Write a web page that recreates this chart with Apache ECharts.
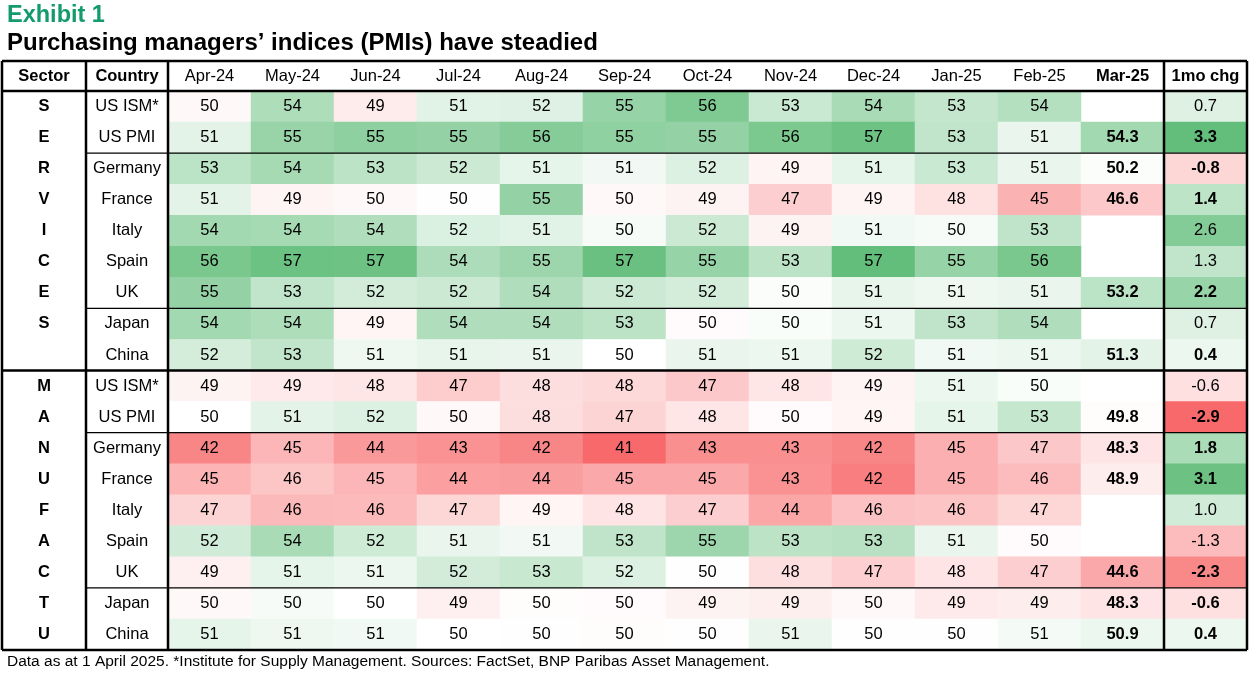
<!DOCTYPE html>
<html>
<head>
<meta charset="utf-8">
<script src="https://cdn.jsdelivr.net/npm/echarts@6/dist/echarts.min.js"></script>
<style>
html, body { margin: 0; padding: 0; background: #fff; }
#chart { width: 1250px; height: 675px; }
</style>
</head>
<body>
<div id="chart"></div>
<script>
var months = ['Apr-24', 'May-24', 'Jun-24', 'Jul-24', 'Aug-24', 'Sep-24', 'Oct-24', 'Nov-24', 'Dec-24', 'Jan-25', 'Feb-25', 'Mar-25'];
var chgLabel = '1mo chg';
var countries = ['US ISM*', 'US PMI', 'Germany', 'France', 'Italy', 'Spain', 'UK', 'Japan', 'China',
                 'US ISM*', 'US PMI', 'Germany', 'France', 'Italy', 'Spain', 'UK', 'Japan', 'China'];
var sectorLetters = ['S', 'E', 'R', 'V', 'I', 'C', 'E', 'S', '',
                     'M', 'A', 'N', 'U', 'F', 'A', 'C', 'T', 'U'];

// Apr-24 ... Mar-25, null = no March reading yet
var servicesPMI = [
  [49.6, 53.8, 48.8, 51.4, 51.5, 54.9, 56.0, 52.5, 54.0, 52.8, 53.5, null],
  [51.3, 54.8, 55.3, 55.0, 55.7, 55.2, 55.0, 56.1, 56.8, 52.9, 51.0, 54.3],
  [53.2, 54.2, 53.1, 52.4, 51.2, 50.6, 51.6, 49.3, 51.2, 52.5, 51.0, 50.2],
  [51.3, 49.3, 49.6, 50.1, 55.0, 49.6, 49.2, 46.9, 49.3, 48.2, 45.2, 46.6],
  [54.3, 54.2, 53.7, 51.7, 51.4, 50.4, 52.4, 49.2, 50.7, 50.4, 53.0, null],
  [56.2, 56.9, 56.8, 53.9, 54.6, 57.0, 54.9, 53.1, 57.3, 54.9, 56.2, null],
  [55.0, 52.9, 52.1, 52.4, 53.7, 52.4, 52.0, 50.2, 51.1, 50.8, 51.0, 53.2],
  [54.3, 53.8, 49.4, 53.7, 53.7, 53.1, 49.7, 50.3, 50.9, 53.0, 53.7, null],
  [52.0, 52.9, 50.8, 51.1, 51.0, 50.0, 51.0, 50.9, 52.3, 50.7, 50.9, 51.3]
];
var manufacturingPMI = [
  [49.2, 48.7, 48.4, 46.8, 47.9, 47.6, 46.6, 48.4, 49.3, 50.9, 50.3, null],
  [50.0, 51.3, 51.6, 49.6, 47.9, 47.3, 48.4, 49.7, 49.4, 51.2, 52.7, 49.8],
  [42.4, 45.4, 43.6, 43.2, 42.4, 40.6, 43.0, 43.0, 42.4, 45.0, 46.5, 48.3],
  [45.3, 46.4, 45.4, 44.0, 43.9, 44.6, 44.6, 43.1, 41.9, 45.0, 45.8, 48.9],
  [47.3, 45.6, 45.7, 47.4, 49.4, 48.3, 46.9, 44.4, 46.2, 46.3, 47.4, null],
  [52.2, 54.0, 52.3, 51.0, 50.6, 53.0, 54.6, 53.1, 53.3, 51.0, 49.7, null],
  [49.1, 51.2, 50.9, 52.1, 52.6, 51.6, 49.9, 48.0, 47.0, 48.3, 46.9, 44.6],
  [49.6, 50.4, 50.0, 49.1, 49.8, 49.7, 49.2, 49.0, 49.6, 48.7, 48.9, 48.3],
  [51.2, 50.8, 50.7, 50.0, 50.1, 49.8, 50.1, 51.0, 50.1, 49.9, 50.5, 50.9]
];
var servicesChg = [0.7, 3.3, -0.8, 1.4, 2.6, 1.3, 2.2, 0.7, 0.4];
var manufacturingChg = [-0.6, -2.9, 1.8, 3.1, 1.0, -1.3, -2.3, -0.6, 0.4];

var FONT = '"Liberation Sans", Arial, sans-serif';
var FS = 16.5;

// table frame (px)
var tableL = 2, tableR = 1247, tableT = 61, headB = 91, tableB = 650;
var sectorR = 86, countryR = 168;
var rowH = (tableB - headB) / 18;
var chgL = countryR + 12 * (tableR - countryR) / 13;

var allPMI = servicesPMI.concat(manufacturingPMI);
var allChg = servicesChg.concat(manufacturingChg);

// excel-like red / white / green scale, white at mid
function scaleStops(lo, mid, hi) {
  var red = [248, 105, 107], white = [255, 255, 255], green = [99, 190, 123];
  var out = [];
  var n = 241;
  for (var i = 0; i < n; i++) {
    var v = lo + (hi - lo) * i / (n - 1);
    var to = v < mid ? red : green;
    var t = v < mid ? (mid - v) / (mid - lo) : (v - mid) / (hi - mid);
    var c = white.map(function (w, k) { return Math.round(w + (to[k] - w) * t); });
    out.push('rgb(' + c.join(',') + ')');
  }
  return out;
}

var cells = [];
allPMI.forEach(function (row, r) {
  row.forEach(function (v, c) {
    if (v !== null) cells.push([c, r, v]);
  });
});
var chgCells = allChg.map(function (v, r) { return [12, r, v]; });

function hline(y, x1, x2, w) {
  return { type: 'line', z: 50, shape: { x1: x1, y1: y, x2: x2, y2: y }, style: { stroke: '#000', lineWidth: w } };
}
function vline(x, y1, y2, w) {
  return { type: 'line', z: 50, shape: { x1: x, y1: y1, x2: x, y2: y2 }, style: { stroke: '#000', lineWidth: w } };
}
function txt(text, x, y, bold, size, align) {
  return { type: 'text', z: 50, x: x, y: y,
    style: { text: text, align: align || 'center', verticalAlign: 'middle', fill: '#000',
             fontSize: size || FS, fontWeight: bold ? 'bold' : 'normal', fontFamily: FONT } };
}

var lines = [
  hline(tableT, tableL, tableR, 2.5),
  hline(tableB, tableL, tableR, 2.5),
  hline(headB, tableL, tableR, 2.5),
  hline(headB + 9 * rowH, tableL, tableR, 2.5),
  hline(headB + 2 * rowH, sectorR, tableR, 1.3),
  hline(headB + 7 * rowH, sectorR, tableR, 1.3),
  hline(headB + 11 * rowH, sectorR, tableR, 1.3),
  hline(headB + 16 * rowH, sectorR, tableR, 1.3),
  vline(tableL, tableT, tableB, 2.5),
  vline(tableR, tableT, tableB, 2.5),
  vline(sectorR, tableT, tableB, 2.5),
  vline(countryR, tableT, tableB, 2.5),
  vline(chgL, tableT, tableB, 2.5),
  txt('Sector', (tableL + sectorR) / 2, (tableT + headB) / 2, true),
  txt('Country', (sectorR + countryR) / 2, (tableT + headB) / 2, true),
  txt('Data as at 1 April 2025. *Institute for Supply Management. Sources: FactSet, BNP Paribas Asset Management.', 7, 662, false, 15.5, 'left')
];

var boldRich = { b: { fontWeight: 'bold', fontSize: FS, fontFamily: FONT, color: '#000' } };

var option = {
  animation: false,
  backgroundColor: '#fff',
  textStyle: { fontFamily: FONT },
  title: [
    { text: 'Exhibit 1', left: 7, top: 3.5, padding: 0,
      textStyle: { color: '#149b6c', fontSize: 23.5, fontWeight: 'bold', fontFamily: FONT } },
    { text: 'Purchasing managers\u2019 indices (PMIs) have steadied', left: 7, top: 31.5, padding: 0,
      textStyle: { color: '#000', fontSize: 24, fontWeight: 'bold', fontFamily: FONT } }
  ],
  grid: { left: countryR, right: 1250 - tableR, top: headB, bottom: 675 - tableB, containLabel: false },
  xAxis: {
    type: 'category',
    position: 'top',
    data: months.concat([chgLabel]),
    axisLine: { show: false },
    axisTick: { show: false },
    splitLine: { show: false },
    axisLabel: {
      interval: 0, margin: (headB - tableT) / 2, verticalAlign: 'middle',
      color: '#000', fontSize: FS, fontFamily: FONT, rich: boldRich,
      formatter: function (v) { return (v === 'Mar-25' || v === chgLabel) ? '{b|' + v + '}' : v; }
    }
  },
  yAxis: [
    {
      type: 'category', inverse: true, data: countries,
      axisLine: { show: false }, axisTick: { show: false }, splitLine: { show: false },
      axisLabel: { interval: 0, align: 'center', margin: (countryR - sectorR) / 2, color: '#000', fontSize: FS, fontFamily: FONT }
    },
    {
      type: 'category', inverse: true, data: sectorLetters, position: 'left', offset: countryR - sectorR,
      axisLine: { show: false }, axisTick: { show: false }, splitLine: { show: false },
      axisLabel: { interval: 0, align: 'center', margin: (sectorR - tableL) / 2, color: '#000', fontSize: FS, fontWeight: 'bold', fontFamily: FONT }
    }
  ],
  visualMap: [
    { type: 'continuous', show: false, seriesIndex: 0, dimension: 2, min: 40.6, max: 57.3,
      inRange: { color: scaleStops(40.6, 50, 57.3) } },
    { type: 'continuous', show: false, seriesIndex: 1, dimension: 2, min: -2.9, max: 3.3,
      inRange: { color: scaleStops(-2.9, 0, 3.3) } }
  ],
  series: [
    {
      name: 'PMI', type: 'heatmap', xAxisIndex: 0, yAxisIndex: 0, data: cells,
      itemStyle: { borderWidth: 0 },
      emphasis: { disabled: true },
      label: {
        show: true, color: '#000', fontSize: FS, fontFamily: FONT, rich: boldRich,
        formatter: function (p) {
          var v = p.value[2];
          return p.value[0] === 11 ? '{b|' + v.toFixed(1) + '}' : String(Math.round(v));
        }
      }
    },
    {
      name: chgLabel, type: 'heatmap', xAxisIndex: 0, yAxisIndex: 0, data: chgCells,
      itemStyle: { borderWidth: 0 },
      emphasis: { disabled: true },
      label: {
        show: true, color: '#000', fontSize: FS, fontFamily: FONT, rich: boldRich,
        formatter: function (p) {
          var s = p.value[2].toFixed(1);
          return allPMI[p.value[1]][11] !== null ? '{b|' + s + '}' : s;
        }
      }
    }
  ],
  graphic: lines
};

var chart = echarts.init(document.getElementById('chart'));
chart.setOption(option);
</script>
</body>
</html>
